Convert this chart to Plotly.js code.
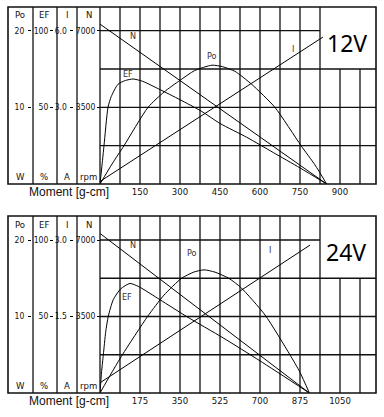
<!DOCTYPE html>
<html>
<head>
<meta charset="utf-8">
<script src="https://cdn.plot.ly/plotly-3.0.1.min.js"></script>
<style>html,body{margin:0;padding:0;background:#fff;}#chart{width:384px;height:417px;}</style>
</head>
<body>
<div id="chart"></div>
<script>
// ---------- 12V chart data ----------
const T_N12 = [0, 850];
const N12 = [7300, 0];
const T_I12 = [0, 836];
const I12 = [0.1, 5.75];
const T_EF12 = [0, 8, 15, 30, 42, 67, 95, 124, 160, 220, 300, 380, 450, 550, 650, 750, 850];
const EF12 = [0, 13, 25, 50, 57, 65, 67.5, 68.5, 67, 62, 55, 47.5, 39.5, 30.5, 20.5, 10.5, 0];
const T_PO12 = [0, 45, 90, 180, 240, 299, 355, 420, 460, 506, 569, 656, 754, 806, 850];
const PO12 = [0, 2.6, 5, 10, 12.0, 13.5, 14.8, 15.5, 15.3, 14.7, 13.0, 10, 5, 2.5, 0];
const XTICKS12 = [150, 300, 450, 600, 750, 900];

// ---------- 24V chart data ----------
const T_N24 = [0, 916];
const N24 = [7300, 0];
const T_I24 = [0, 919];
const I24 = [0.2, 2.9];
const T_EF24 = [0, 7, 14.6, 25, 36, 58, 90, 131, 170, 262, 379, 539, 700, 916];
const EF24 = [0, 14, 25, 40, 50, 61, 68, 71.6, 69.5, 61, 50, 36, 21, 0];
const T_PO24 = [0, 50, 98, 208, 280, 357, 410, 455, 503, 563, 616, 722, 831, 875, 916];
const PO24 = [0, 2.6, 5, 10, 12.8, 15, 15.8, 16.1, 15.8, 15.0, 13.8, 10.2, 5, 2.7, 0];
const XTICKS24 = [175, 350, 525, 700, 875, 1050];

// left scale tick labels
const PO_TICKS = [10, 20];
const EF_TICKS = [50, 100];
const I_TICKS12 = [3.0, 6.0];
const I_TICKS24 = [1.5, 3.0];
const N_TICKS = [3500, 7000];

const NARROW = "DejaVu Sans Condensed, Liberation Sans Narrow, Arial Narrow, sans-serif";
const line = {color: '#000', width: 1};

function traces(xa, ys, tN, n, tI, i, tE, e, tP, p) {
  return [
    {x: tN, y: n, xaxis: xa, yaxis: ys[3], mode: 'lines', line: line},
    {x: tI, y: i, xaxis: xa, yaxis: ys[2], mode: 'lines', line: line},
    {x: tE, y: e, xaxis: xa, yaxis: ys[1], mode: 'lines', line: Object.assign({shape: 'spline', smoothing: 0.6}, line)},
    {x: tP, y: p, xaxis: xa, yaxis: ys[0], mode: 'lines', line: Object.assign({shape: 'spline', smoothing: 0.6}, line)}
  ];
}

const data = [].concat(
  traces('x', ['y', 'y2', 'y3', 'y4'], T_N12, N12, T_I12, I12, T_EF12, EF12, T_PO12, PO12),
  traces('x2', ['y5', 'y6', 'y7', 'y8'], T_N24, N24, T_I24, I24, T_EF24, EF24, T_PO24, PO24)
);

// geometry helpers (paper coords)
const ML = 8, MR = 8, MT = 7, MB = 24, W = 384, H = 417;
const PW = W - ML - MR, PH = H - MT - MB;
const px = v => (v - ML) / PW;
const py = v => (H - MB - v) / PH;

const RATIO12 = 177 / 153.3;
const RATIO24 = 177 / 153;

function yax(domain, rng, pos, tv, tt, over, standoff) {
  const a = {
    domain: domain, range: rng, anchor: 'free', position: pos, side: 'left',
    tickvals: tv, ticktext: tt, ticks: 'outside', ticklen: 3, tickwidth: 1, tickcolor: '#000',
    ticklabelstandoff: standoff,
    showgrid: false, zeroline: false, showline: false, fixedrange: true,
    tickfont: {family: NARROW, size: 8.5, color: '#111'}
  };
  if (over) a.overlaying = over;
  return a;
}

const D1 = [py(184), 1];
const D2 = [0, py(216)];
const xmax12 = 1035, xmax24 = 1207.5;

const layout = {
  width: W, height: H, margin: {l: ML, r: MR, t: MT, b: MB},
  paper_bgcolor: '#fff', plot_bgcolor: '#fff', showlegend: false,
  xaxis: {domain: [px(100), 1], anchor: 'y', range: [0, xmax12], tickvals: XTICKS12, ticks: '',
    showgrid: false, zeroline: false, showline: false, fixedrange: true,
    tickfont: {family: NARROW, size: 9.5, color: '#111'}},
  xaxis2: {domain: [px(100), 1], anchor: 'y5', range: [0, xmax24], tickvals: XTICKS24, ticks: '',
    showgrid: false, zeroline: false, showline: false, fixedrange: true,
    tickfont: {family: NARROW, size: 9.5, color: '#111'}},
  yaxis: yax(D1, [0, 20 * RATIO12], px(31), PO_TICKS, PO_TICKS.map(String), null, 2),
  yaxis2: yax(D1, [0, 100 * RATIO12], px(53), EF_TICKS, EF_TICKS.map(String), 'y', 0),
  yaxis3: yax(D1, [0, 6 * RATIO12], px(72.5), I_TICKS12, I_TICKS12.map(v => v.toFixed(1)), 'y', 1),
  yaxis4: yax(D1, [0, 7000 * RATIO12], px(100), N_TICKS, N_TICKS.map(String), 'y', 0),
  yaxis5: yax(D2, [0, 20 * RATIO24], px(31), PO_TICKS, PO_TICKS.map(String), null, 2),
  yaxis6: yax(D2, [0, 100 * RATIO24], px(53), EF_TICKS, EF_TICKS.map(String), 'y5', 0),
  yaxis7: yax(D2, [0, 3 * RATIO24], px(72.5), I_TICKS24, I_TICKS24.map(v => v.toFixed(1)), 'y5', 1),
  yaxis8: yax(D2, [0, 7000 * RATIO24], px(100), N_TICKS, N_TICKS.map(String), 'y5', 0),
  shapes: [],
  annotations: []
};

function frame(xr, yr, step, xmax, ymax, dom) {
  const s = [];
  const g = {color: '#111', width: 1.3};
  for (let k = 1; k <= 13; k++) {
    const top = k >= 12 ? 15 : ymax;
    s.push({type: 'line', xref: xr, yref: yr, x0: k * step, x1: k * step, y0: 0, y1: top, line: g, layer: 'below'});
  }
  [5, 10, 15].forEach(v => s.push({type: 'line', xref: xr, yref: yr, x0: 0, x1: xmax, y0: v, y1: v, line: g, layer: 'below'}));
  s.push({type: 'line', xref: xr, yref: yr, x0: 0, x1: 11 * step, y0: 20, y1: 20, line: g, layer: 'below'});
  [33, 57, 77, 100].forEach(v => s.push({type: 'line', xref: 'paper', yref: 'paper', x0: px(v), x1: px(v), y0: dom[0], y1: dom[1], line: {color: '#111', width: 1.3}}));
  s.push({type: 'rect', xref: 'paper', yref: 'paper', x0: 0, x1: 1, y0: dom[0], y1: dom[1], line: {color: '#111', width: 1.6}});
  return s;
}
layout.shapes = frame('x', 'y', 75, xmax12, 20 * RATIO12, D1).concat(frame('x2', 'y5', 87.5, xmax24, 20 * RATIO24, D2));

function ann(text, x, y, opts) {
  return Object.assign({text: text, x: x, y: y, xref: 'paper', yref: 'paper', showarrow: false,
    xanchor: 'center', yanchor: 'middle', font: {family: NARROW, size: 9.5, color: '#111'}}, opts || {});
}

const heads = [['Po', 20], ['EF', 43.5], ['I', 67], ['N', 88.5]];
const units = [['W', 20], ['%', 43.5], ['A', 67], ['rpm', 88.5]];
[0, 209].forEach(off => {
  heads.forEach(h => layout.annotations.push(ann(h[0], px(h[1]), py(15 + off))));
  units.forEach(u => layout.annotations.push(ann(u[0], px(u[1]), py(176 + off))));
  layout.annotations.push(ann('Moment [g-cm]', px(69), py(192 + off),
    {font: {family: 'Liberation Sans, Arial, sans-serif', size: 12, color: '#111'}}));
});

const small = {font: {family: NARROW, size: 9, color: '#333'}};
function cl(text, x, y, xr, yr) {
  return Object.assign(ann(text, x, y, small), {xref: xr, yref: yr});
}
layout.annotations.push(
  cl('N', 125, 19.3, 'x', 'y'),
  cl('EF', 106, 14.3, 'x', 'y'),
  cl('Po', 419, 16.65, 'x', 'y'),
  cl('I', 723, 17.6, 'x', 'y'),
  cl('N', 146, 19.3, 'x2', 'y5'),
  cl('Po', 401, 18.3, 'x2', 'y5'),
  cl('EF', 117, 12.5, 'x2', 'y5'),
  cl('I', 744, 18.65, 'x2', 'y5'),
  ann('12V', px(347), py(43), {font: {family: 'Noto Sans, Open Sans, sans-serif', size: 23, color: '#000'}}),
  ann('24V', px(346), py(252), {font: {family: 'Noto Sans, Open Sans, sans-serif', size: 23, color: '#000'}})
);

Plotly.newPlot('chart', data, layout, {displayModeBar: false, staticPlot: true});
</script>
</body>
</html>
